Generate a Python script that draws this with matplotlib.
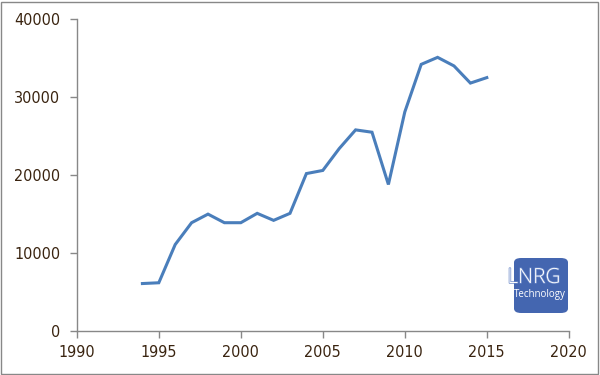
import matplotlib
matplotlib.use("Agg")
import matplotlib.pyplot as plt
import matplotlib.patheffects as pe
from matplotlib.patches import Rectangle, FancyBboxPatch

years = [1994, 1995, 1996, 1997, 1998, 1999, 2000, 2001, 2002, 2003, 2004,
         2005, 2006, 2007, 2008, 2009, 2010, 2011, 2012, 2013, 2014, 2015]
values = [6100, 6200, 11100, 13900, 15000, 13900, 13900, 15100, 14200, 15100, 20200,
          20600, 23400, 25800, 25500, 18800, 28100, 34200, 35100, 34000, 31800, 32500]
xticks = [1990, 1995, 2000, 2005, 2010, 2015, 2020]
yticks = [0, 10000, 20000, 30000, 40000]

label_color = '#3a2410'
axis_color = '#888888'

fig = plt.figure(figsize=(6, 3.75), dpi=100)
ax = fig.add_axes([0.128, 0.117, 0.82, 0.832])

ax.plot(years, values, color='#4a7ebb', linewidth=2.2, solid_joinstyle='miter')

ax.set_xlim(1990, 2020)
ax.set_ylim(0, 40000)
ax.set_xticks(xticks)
ax.set_yticks(yticks)
ax.set_xticklabels([str(t) for t in xticks])
ax.set_yticklabels([str(t) for t in yticks])

for s in ['top', 'right']:
    ax.spines[s].set_visible(False)
for s in ['left', 'bottom']:
    ax.spines[s].set_color(axis_color)
    ax.spines[s].set_linewidth(1)
ax.tick_params(colors=axis_color, length=5, width=1, direction='out')
ax.tick_params(axis='y', pad=7)
ax.tick_params(axis='x', pad=5)
for lab in ax.get_xticklabels() + ax.get_yticklabels():
    lab.set_family('DejaVu Sans')
    lab.set_stretch('condensed')
    lab.set_fontsize(11.5)
    lab.set_color(label_color)

# logo
logo = FancyBboxPatch((514 / 600, (375 - 313) / 375), 54 / 600, 55 / 375,
                      boxstyle='round,pad=0,rounding_size=0.012',
                      transform=fig.transFigure, facecolor='#4466b0',
                      edgecolor='none', zorder=5)
fig.patches.append(logo)
fig.text(534 / 600, (375 - 278) / 375, 'LNRG', color='white', fontsize=15,
         family='Open Sans', weight='light', ha='center', va='center', zorder=6,
         path_effects=[pe.withStroke(linewidth=1.0, foreground='#6a88c8')])
fig.text(540 / 600, (375 - 295) / 375, 'Technology', color='white', fontsize=7,
         family='Open Sans', ha='center', va='center', zorder=6)

# outer border
fig.patches.append(Rectangle((0.002, 0.003), 0.995, 0.993, transform=fig.transFigure,
                             fill=False, edgecolor=axis_color, linewidth=1))

fig.savefig('out.png', dpi=100)
